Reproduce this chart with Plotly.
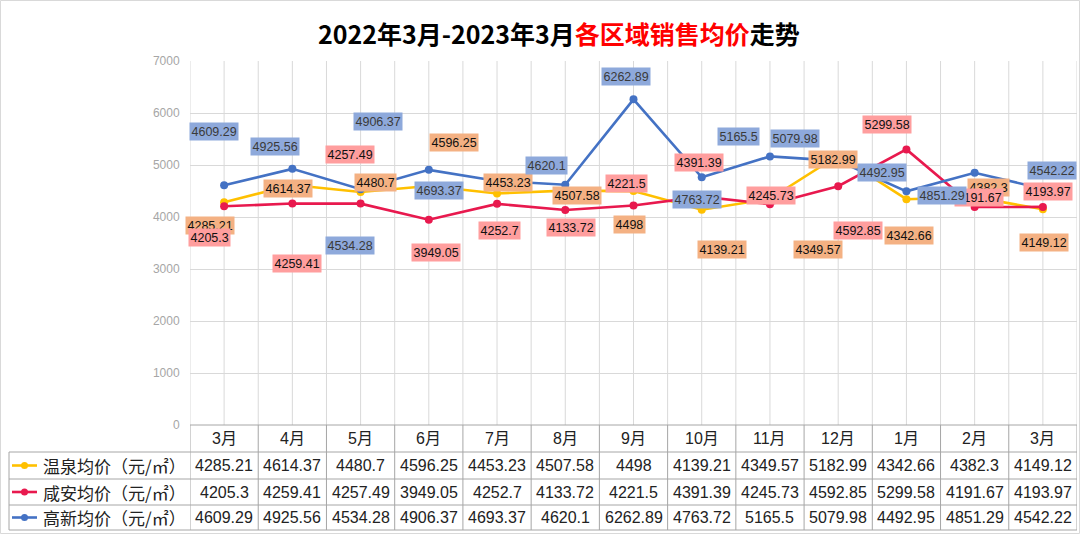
import plotly.graph_objects as go

# ---------------- data ----------------
months = ["3月", "4月", "5月", "6月", "7月", "8月", "9月", "10月", "11月", "12月", "1月", "2月", "3月"]
series_names = ["温泉均价（元/㎡）", "咸安均价（元/㎡）", "高新均价（元/㎡）"]
wenquan = [4285.21, 4614.37, 4480.7, 4596.25, 4453.23, 4507.58, 4498, 4139.21, 4349.57, 5182.99, 4342.66, 4382.3, 4149.12]
xianan = [4205.3, 4259.41, 4257.49, 3949.05, 4252.7, 4133.72, 4221.5, 4391.39, 4245.73, 4592.85, 5299.58, 4191.67, 4193.97]
gaoxin = [4609.29, 4925.56, 4534.28, 4906.37, 4693.37, 4620.1, 6262.89, 4763.72, 5165.5, 5079.98, 4492.95, 4851.29, 4542.22]
y_ticks = [0, 1000, 2000, 3000, 4000, 5000, 6000, 7000]

# ---------------- label offsets (pixels: dx right, dy down) ----------------
wenquan_off = [(-14, 23), (-4, 3), (15, -10), (25, -44), (11, -11), (12, 5), (-4, 33),
               (20, 40), (48, 51), (-5, 4), (3, 36), (14, -10), (1, 33)]
xianan_off = [(-15, 31), (5, 60), (-11, -49), (7, 33), (2, 27), (6, 17), (-7, -22),
              (-3, -34), (1, -9), (20, 44), (-19, -25), (4, -10), (5, -15)]
gaoxin_off = [(-10, -54), (-17, -22), (-11, 56), (-51, -48), (-58, 10), (-19, -19), (-8, -23),
              (-5, 22), (-31, -20), (-43, -22), (-24, -19), (-33, 23), (9, -18)]

# ---------------- styles ----------------
W, H = 1080, 535
L, R, T, B = 190, 3, 61, 110
PW, PH = W - L - R, H - T - B
colors = ["#FFC000", "#E8194E", "#4472C4"]
label_bg = ["#F4B183", "#FF9E9E", "#8EA9DB"]
label_fg = ["#111111", "#111111", "#3A3A3A"]
grid_c = "#D9D9D9"
table_c = "#A6A6A6"
num_font = "Liberation Sans, Noto Sans CJK SC, sans-serif"
cjk_font = "Noto Sans CJK SC, sans-serif"


def py(pix):  # pixel y -> paper y
    return (H - B - pix) / PH


def px(pix):  # pixel x -> paper x
    return (pix - L) / PW


xs = list(range(len(months)))
all_series = [wenquan, xianan, gaoxin]
all_offs = [wenquan_off, xianan_off, gaoxin_off]

fig = go.Figure()
for name, vals, c in zip(series_names, all_series, colors):
    fig.add_trace(go.Scatter(
        x=xs, y=vals, mode="lines+markers", name=name,
        line=dict(color=c, width=2.6),
        marker=dict(color=c, size=8),
        showlegend=False, hoverinfo="skip",
    ))

shapes = []
# vertical gridlines in plot (centres and boundaries)
for i in range(len(months)):
    shapes.append(dict(type="line", xref="x", yref="paper", x0=i, x1=i, y0=0, y1=1,
                       line=dict(color=grid_c, width=1), layer="below"))
for i in range(len(months) + 1):
    shapes.append(dict(type="line", xref="x", yref="paper", x0=i - 0.5, x1=i - 0.5, y0=0, y1=1,
                       line=dict(color=grid_c, width=1), layer="below"))
    # table column lines
    shapes.append(dict(type="line", xref="x", yref="paper", x0=i - 0.5, x1=i - 0.5,
                       y0=py(530), y1=0, line=dict(color=table_c, width=1)))

# table horizontal lines
shapes.append(dict(type="line", xref="paper", yref="paper", x0=0, x1=1, y0=0, y1=0,
                   line=dict(color=table_c, width=1)))
for yy in [452, 479, 505, 530]:
    shapes.append(dict(type="line", xref="paper", yref="paper", x0=px(9), x1=1, y0=py(yy), y1=py(yy),
                       line=dict(color=table_c, width=1)))
shapes.append(dict(type="line", xref="paper", yref="paper", x0=px(9), x1=px(9), y0=py(530), y1=py(452),
                   line=dict(color=table_c, width=1)))

# outer chart border
shapes.append(dict(type="rect", xref="paper", yref="paper", x0=px(0.5), x1=px(W - 0.5),
                   y0=py(H - 1.5), y1=py(0.5), line=dict(color=grid_c, width=1)))

annotations = []
row_y = [465.5, 492, 517.5]
# legend keys + series names in first column
for k, (name, c) in enumerate(zip(series_names, colors)):
    yk = py(row_y[k])
    shapes.append(dict(type="line", xref="paper", yref="paper", x0=px(12), x1=px(37), y0=yk, y1=yk,
                       line=dict(color=c, width=2.6)))
    shapes.append(dict(type="circle", xref="paper", yref="paper", xsizemode="pixel", ysizemode="pixel",
                       xanchor=px(24.5), yanchor=yk, x0=-3.5, x1=3.5, y0=-3.5, y1=3.5,
                       fillcolor=c, line=dict(color=c, width=0)))
    annotations.append(dict(xref="paper", yref="paper", x=px(41), y=yk, text=name, showarrow=False,
                            xanchor="left", yanchor="middle",
                            font=dict(family=cjk_font, size=17, color="#222222")))

# header row with months
for i, m in enumerate(months):
    annotations.append(dict(xref="x", yref="paper", x=i, y=py(438.5), text=m, showarrow=False,
                            xanchor="center", yanchor="middle",
                            font=dict(family=num_font, size=16, color="#222222")))

# table values
for k, vals in enumerate(all_series):
    for i, v in enumerate(vals):
        annotations.append(dict(xref="x", yref="paper", x=i, y=py(row_y[k]), text=f"{v:g}",
                                showarrow=False, xanchor="center", yanchor="middle",
                                font=dict(family=num_font, size=16, color="#222222")))

# data labels (orange, red, blue order so blue is on top)
for k, (vals, offs) in enumerate(zip(all_series, all_offs)):
    for i, (v, (dx, dy)) in enumerate(zip(vals, offs)):
        annotations.append(dict(xref="x", yref="y", x=i, y=v, text=f"{v:g}", showarrow=False,
                                xanchor="center", yanchor="middle", xshift=dx, yshift=-dy,
                                bgcolor=label_bg[k], borderpad=1.5,
                                font=dict(family=num_font, size=12.5, color=label_fg[k])))

# title
annotations.append(dict(
    xref="paper", yref="paper", x=px(559), y=py(33), showarrow=False,
    xanchor="center", yanchor="middle",
    text="2022年3月-2023年3月<span style='color:#FF0000'>各区域销售均价</span>走势",
    font=dict(family=cjk_font, size=25, color="#000000", weight="bold"),
))

fig.update_layout(
    width=W, height=H,
    margin=dict(l=L, r=R, t=T, b=B, pad=0),
    paper_bgcolor="white", plot_bgcolor="white",
    shapes=shapes, annotations=annotations,
    xaxis=dict(range=[-0.5, len(months) - 0.5], showgrid=False, zeroline=False,
               showticklabels=False, showline=False, ticks="", fixedrange=True),
    yaxis=dict(range=[0, 7000], tickvals=y_ticks, showgrid=True, gridcolor=grid_c, gridwidth=1,
               zeroline=False, showline=False, ticks="outside", ticklen=7,
               tickcolor="rgba(0,0,0,0)",
               tickfont=dict(family=num_font, size=12, color="#A6A6A6"), fixedrange=True),
)

fig.write_html("out.html", config={"displayModeBar": False},
               post_script="document.body.style.margin='0px';document.body.style.overflow='hidden';")
